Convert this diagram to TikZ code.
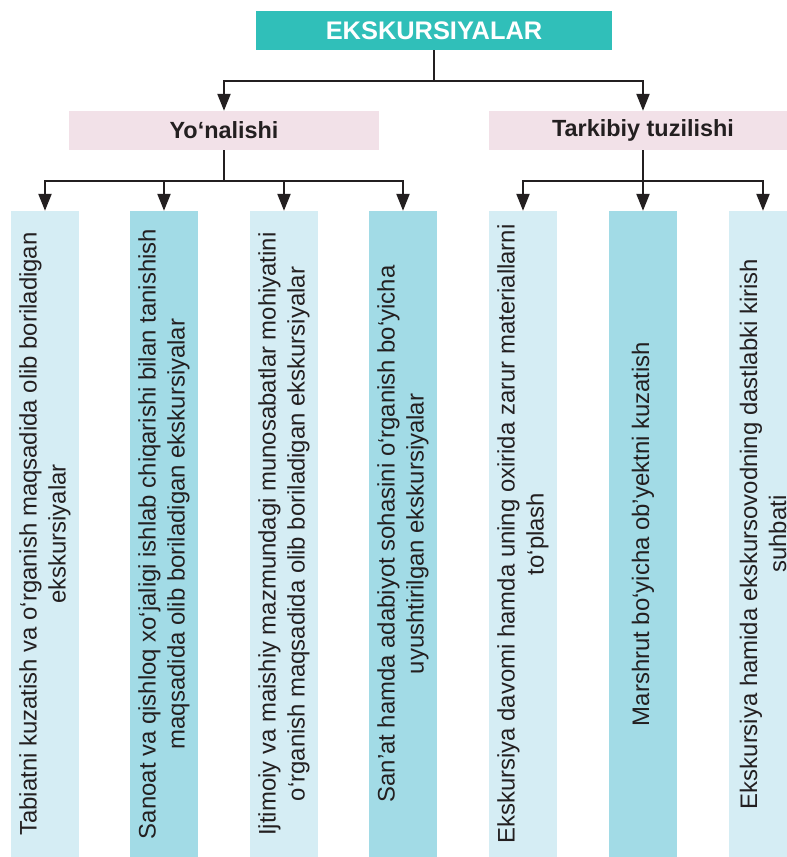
\documentclass[tikz,border=0pt]{standalone}
\usepackage{fontspec}
\setmainfont{Liberation Sans}
\usetikzlibrary{arrows.meta}
\definecolor{teal1}{HTML}{30BFB9}
\definecolor{pink1}{HTML}{F2E1E8}
\definecolor{lblue}{HTML}{D5EDF4}
\definecolor{dblue}{HTML}{A2DBE6}
\definecolor{txt}{HTML}{231F20}
\begin{document}
\begin{tikzpicture}[x=1bp,y=1bp,
  titlebox/.style={fill=teal1,minimum width=356bp,minimum height=39bp,inner sep=0pt,
    text=white,font=\bfseries\fontsize{25.5}{28}\selectfont},
  headbox/.style={fill=pink1,minimum width=310bp,minimum height=39bp,inner sep=0pt,
    text=txt,font=\bfseries\fontsize{23.5}{28}\selectfont},
  colbox/.style={minimum width=68bp,minimum height=646bp,inner sep=0pt},
  coltext/.style={rotate=90,align=center,text=txt,inner sep=0pt,
    font=\fontsize{24}{29}\selectfont},
  arr/.style={line width=2.2bp,draw=txt,-{Triangle[length=17bp,width=13bp]}},
  ln/.style={line width=2.2bp,draw=txt}]
\clip (0,0) rectangle (787,857);
\fill[white] (0,0) rectangle (787,857);
% title
\node[titlebox] (top) at (434,826.5) {EKSKURSIYALAR};
\node[headbox] (lp) at (224,726.5) {Yo‘nalishi};
\node[headbox,minimum width=308bp] (rp) at (643,726.5) {Tarkibiy tuzilishi};
% columns
\node[colbox,fill=lblue] (b1) at (45,323) {};
\node[colbox,fill=dblue] (b2) at (164,323) {};
\node[colbox,fill=lblue] (b3) at (284,323) {};
\node[colbox,fill=dblue] (b4) at (403,323) {};
\node[colbox,fill=lblue] (b5) at (523,323) {};
\node[colbox,fill=dblue] (b6) at (643,323) {};
\node[colbox,fill=lblue] (b7) at (763,323) {};
\node[coltext] (t1) at (b1.center) {Tabiatni kuzatish va o‘rganish maqsadida olib boriladigan\\ekskursiyalar};
\node[coltext] (t2) at (b2.center) {Sanoat va qishloq xo‘jaligi ishlab chiqarishi bilan tanishish\\maqsadida olib boriladigan ekskursiyalar};
\node[coltext] (t3) at (b3.center) {Ijtimoiy va maishiy mazmundagi munosabatlar mohiyatini\\o‘rganish maqsadida olib boriladigan ekskursiyalar};
\node[coltext] (t4) at (b4.center) {San’at hamda adabiyot sohasini o‘rganish bo‘yicha\\uyushtirilgan ekskursiyalar};
\node[coltext] (t5) at (b5.center) {Ekskursiya davomi hamda uning oxirida zarur materiallarni\\to‘plash};
\node[coltext] (t6) at (b6.center) {Marshrut bo‘yicha ob’yektni kuzatish};
\node[coltext] (t7) at (b7.center) {Ekskursiya hamida ekskursovodning dastlabki kirish\\suhbati};
% junctions
\coordinate (j0) at (434,776);
\coordinate (jl) at (224,676);
\coordinate (jr) at (643,676);
\draw[ln] (top.south) -- (j0);
\draw[arr] (j0) -| (lp.north);
\draw[arr] (j0) -| (rp.north);
\draw[ln] (lp.south) -- (jl);
\draw[arr] (jl) -| (b1.north);
\draw[arr] (jl) -| (b2.north);
\draw[arr] (jl) -| (b3.north);
\draw[arr] (jl) -| (b4.north);
\draw[arr] (rp.south) -- (b6.north);
\draw[arr] (jr) -| (b5.north);
\draw[arr] (jr) -| (b7.north);
\end{tikzpicture}
\end{document}
